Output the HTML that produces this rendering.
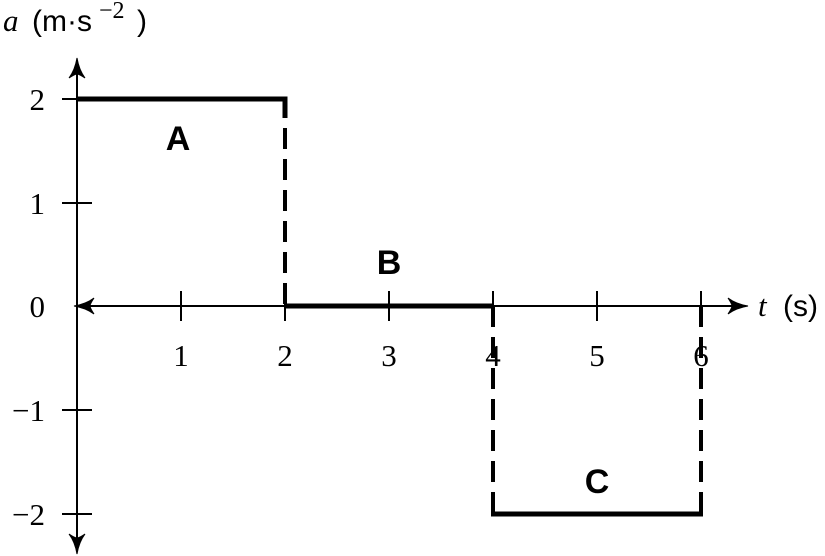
<!DOCTYPE html>
<html><head><meta charset="utf-8"><style>body{margin:0;background:#fff}svg{display:block}</style></head>
<body>
<svg width="825" height="556" viewBox="0 0 825 556" xmlns="http://www.w3.org/2000/svg">
<g stroke="#000" stroke-width="2" fill="none">
<line x1="77" y1="64" x2="77" y2="548"/>
<line x1="80" y1="306" x2="742" y2="306"/>
<line x1="62" y1="99" x2="92" y2="99"/>
<line x1="62" y1="203" x2="92" y2="203"/>
<line x1="62" y1="410" x2="92" y2="410"/>
<line x1="62" y1="514" x2="92" y2="514"/>
<line x1="181" y1="291" x2="181" y2="321"/>
<line x1="285" y1="291" x2="285" y2="321"/>
<line x1="389" y1="291" x2="389" y2="321"/>
<line x1="493" y1="291" x2="493" y2="321"/>
<line x1="597" y1="291" x2="597" y2="321"/>
<line x1="701" y1="291" x2="701" y2="321"/>
</g>
<g fill="#000" stroke="#000" stroke-width="1">
<path d="M77,58 Q79,70 85,78 Q79,74 77,74 Q75,74 69,78 Q75,70 77,58Z"/>
<path d="M77,554 Q79,542 85,534 Q79,538 77,538 Q75,538 69,534 Q75,542 77,554Z"/>
<path d="M74,306 Q86,304 94,298 Q90,304 90,306 Q90,308 94,314 Q86,308 74,306Z"/>
<path d="M748,306 Q736,304 728,298 Q732,304 732,306 Q732,308 728,314 Q736,308 748,306Z"/>
</g>
<g stroke="#000" stroke-width="5" fill="none">
<polyline points="77,99 285,99 285,118"/>
<line x1="285" y1="128" x2="285" y2="306" stroke-dasharray="21 10" stroke-width="4"/>
<line x1="285" y1="306" x2="493" y2="306"/>
<line x1="493" y1="306" x2="493" y2="514" stroke-dasharray="21 10" stroke-width="4"/>
<line x1="701" y1="306" x2="701" y2="514" stroke-dasharray="21 10" stroke-width="4"/>
<line x1="491" y1="514" x2="703" y2="514"/>
</g>
<g font-family="Liberation Serif, serif" font-size="31" fill="#000">
<text x="45" y="110" text-anchor="end">2</text>
<text x="45" y="214" text-anchor="end">1</text>
<text x="45" y="317" text-anchor="end">0</text>
<text x="45" y="421" text-anchor="end">−1</text>
<text x="45" y="525" text-anchor="end">−2</text>
<text x="181" y="366" text-anchor="middle">1</text>
<text x="285" y="366" text-anchor="middle">2</text>
<text x="389" y="366" text-anchor="middle">3</text>
<text x="493" y="366" text-anchor="middle">4</text>
<text x="597" y="366" text-anchor="middle">5</text>
<text x="701" y="366" text-anchor="middle">6</text>
<text x="3" y="31" font-style="italic">a</text>
<text x="758" y="316" font-style="italic">t</text>
<text x="99" y="18" font-size="24">−2</text>
</g>
<g font-family="Liberation Sans, sans-serif" font-size="30" fill="#000">
<text x="32" y="31">(m·s</text>
<text x="137" y="31">)</text>
<text x="783" y="316">(s)</text>
</g>
<g font-family="Liberation Sans, sans-serif" font-size="34" font-weight="bold" fill="#000" text-anchor="middle">
<text x="178" y="150">A</text>
<text x="389" y="274">B</text>
<text x="597" y="493">C</text>
</g>
</svg>
</body></html>
